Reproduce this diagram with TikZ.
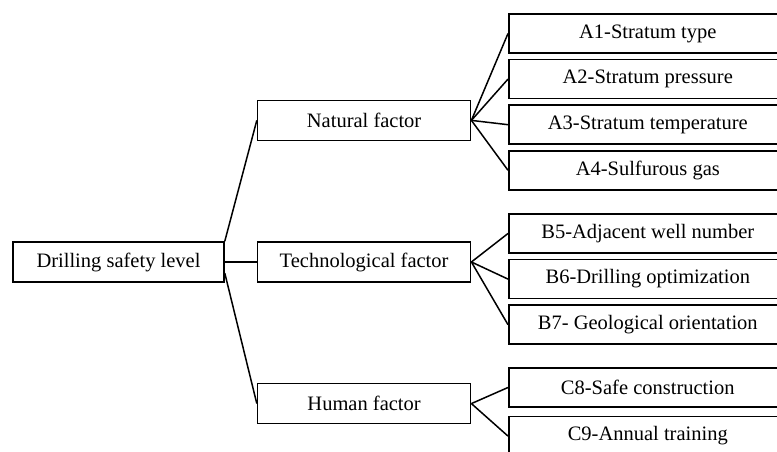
\documentclass[tikz,border=0pt]{standalone}
\usepackage{fontspec}
\setmainfont{Liberation Serif}
\usepackage{tikz}
\usetikzlibrary{positioning}

\begin{document}
\begin{tikzpicture}[
    x=1pt, y=1pt,
    box/.style={
        draw,
        rectangle,
        line width=1.6pt,
        minimum height=40pt,
        align=center,
        inner sep=0pt,
        font=\fontsize{20.5}{24}\selectfont
    },
    rootbox/.style={box, minimum width=211pt},
    factor/.style={box, minimum width=213pt},
    item/.style={box, minimum width=278pt, minimum height=39pt},
    link/.style={line width=1.5pt},
    node distance=5pt
]

\path[use as bounding box, clip] (0,0) rectangle (777,452);

\node[rootbox] (root) at (118.5,190) {Drilling safety level};
\node[factor, right=32pt of root] (tech) {Technological factor};
\node[factor, above=100pt of tech] (nat) {Natural factor};
\node[factor, below=100pt of tech] (hum) {Human factor};

\node[item, anchor=west] (a1) at (508,418.5) {A1-Stratum type};
\node[item, below=of a1] (a2) {A2-Stratum pressure};
\node[item, below=of a2] (a3) {A3-Stratum temperature};
\node[item, below=of a3] (a4) {A4-Sulfurous gas};

\node[item, anchor=west] (b5) at (508,218.5) {B5-Adjacent well number};
\node[item, below=of b5] (b6) {B6-Drilling optimization};
\node[item, below=of b6] (b7) {B7- Geological orientation};

\node[item, anchor=west] (c8) at (508,64.5) {C8-Safe construction};
\node[item, below=8pt of c8] (c9) {C9-Annual training};

\draw[link] (root.north east) -- (nat.west);
\draw[link] (root.east) -- (tech.west);
\draw[link] (root.-6) -- (hum.west);

\draw[link] (nat.east) -- (a1.west);
\draw[link] (nat.east) -- (a2.west);
\draw[link] (nat.east) -- (a3.west);
\draw[link] (nat.east) -- (a4.west);

\draw[link] (tech.east) -- (b5.west);
\draw[link] (tech.east) -- (b6.west);
\draw[link] (tech.east) -- (b7.west);

\draw[link] (hum.east) -- (c8.west);
\draw[link] (hum.east) -- (c9.west);

\end{tikzpicture}
\end{document}
